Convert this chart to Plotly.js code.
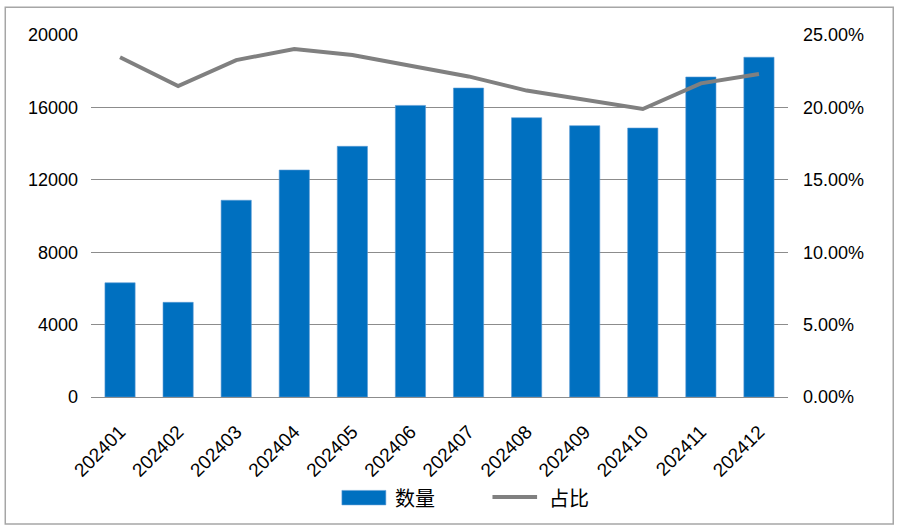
<!DOCTYPE html>
<html>
<head>
<meta charset="utf-8">
<script src="https://cdn.plot.ly/plotly-3.0.1.min.js"></script>
<style>
  html, body { margin: 0; padding: 0; background: #ffffff; }
  #chart { width: 899px; height: 527px; }
</style>
</head>
<body>
<div id="chart"></div>
<script>
// Monthly counts (bars, left axis) and share (line, right axis)
const months = ['202401','202402','202403','202404','202405','202406',
                '202407','202408','202409','202410','202411','202412'];
const counts = [6310, 5230, 10870, 12540, 13850, 16110,
                17070, 15430, 14990, 14860, 17680, 18770];
const shares = [0.2346, 0.2148, 0.2327, 0.2403, 0.2362, 0.2286,
                0.2214, 0.2116, 0.2051, 0.1989, 0.2166, 0.2231];

const countTicks = [0, 4000, 8000, 12000, 16000, 20000];
const shareTicks = [0, 0.05, 0.10, 0.15, 0.20, 0.25];

const barName = '数量';
const lineName = '占比';
const barColor = '#0070C0';
const lineColor = '#808080';

const tickFont = { family: 'Liberation Sans, Arial, sans-serif', size: 18, color: '#000000' };
const xTickFont = { family: 'Liberation Sans, Arial, sans-serif', size: 19, color: '#000000' };
const legendFont = { family: 'Noto Sans CJK SC, sans-serif', size: 20, color: '#000000' };
const gridColor = '#8c8c8c';

const traces = [
  {
    type: 'bar',
    name: barName,
    x: months,
    y: counts,
    marker: { color: barColor, line: { color: '#5b9bd5', width: 0.6 } },
    yaxis: 'y'
  },
  {
    type: 'scatter',
    mode: 'lines',
    name: lineName,
    x: months,
    y: shares,
    line: { color: lineColor, width: 4 },
    yaxis: 'y2'
  }
];

// Legend drawn below the plot: wide swatch for the bars, a stroke for the line
const legendShapes = [
  {
    type: 'rect', xref: 'paper', yref: 'paper',
    x0: 0.360, x1: 0.423, y0: -0.298, y1: -0.258,
    fillcolor: barColor, line: { color: '#5b9bd5', width: 0.6 }
  },
  {
    type: 'line', xref: 'paper', yref: 'paper',
    x0: 0.576, x1: 0.640, y0: -0.276, y1: -0.276,
    line: { color: lineColor, width: 4 }
  }
];
const legendLabels = [
  { text: barName, x: 0.433, y: -0.277 },
  { text: lineName, x: 0.654, y: -0.277 }
].map(d => ({
  text: d.text, x: d.x, y: d.y, xref: 'paper', yref: 'paper',
  xanchor: 'left', yanchor: 'middle', showarrow: false, font: legendFont
}));

const layout = {
  width: 899,
  height: 527,
  margin: { l: 91, r: 111, t: 35, b: 130 },
  paper_bgcolor: '#ffffff',
  plot_bgcolor: '#ffffff',
  bargap: 0.48,
  showlegend: false,
  xaxis: {
    type: 'category',
    tickangle: -45,
    tickfont: xTickFont,
    showgrid: false,
    showline: false,
    ticks: '',
    ticklabelstandoff: 19,
    fixedrange: true
  },
  yaxis: {
    range: [0, 20000],
    tickvals: countTicks,
    ticktext: countTicks.map(v => String(v)),
    tickfont: tickFont,
    showgrid: true,
    gridcolor: gridColor,
    gridwidth: 1,
    zeroline: true,
    zerolinecolor: gridColor,
    zerolinewidth: 1,
    showline: false,
    ticks: '',
    ticklabelstandoff: 12,
    fixedrange: true
  },
  yaxis2: {
    overlaying: 'y',
    side: 'right',
    range: [0, 0.25],
    tickvals: shareTicks,
    ticktext: shareTicks.map(v => (v * 100).toFixed(2) + '%'),
    tickfont: tickFont,
    showgrid: false,
    zeroline: false,
    showline: false,
    ticks: '',
    ticklabelstandoff: 14,
    fixedrange: true
  },
  annotations: legendLabels,
  shapes: [
    {
      type: 'rect',
      xref: 'paper', yref: 'paper',
      x0: -0.123, x1: 1.151,
      y0: -0.351, y1: 1.077,
      line: { color: '#a6a6a6', width: 1.5 },
      fillcolor: 'rgba(0,0,0,0)',
      layer: 'below'
    }
  ].concat(legendShapes)
};

Plotly.newPlot('chart', traces, layout, { displayModeBar: false, staticPlot: true });
</script>
</body>
</html>
